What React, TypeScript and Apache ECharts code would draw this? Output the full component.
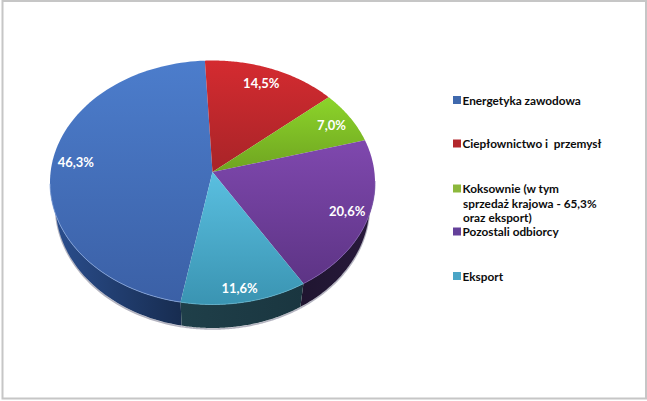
import React, { useEffect, useRef } from "react";
import * as echarts from "echarts";

const categories = [
  "Energetyka zawodowa",
  "Ciepłownictwo i  przemysł",
  "Koksownie (w tym sprzedaż krajowa - 65,3% oraz eksport)",
  "Pozostali odbiorcy",
  "Eksport",
];
const values = [46.3, 14.5, 7.0, 20.6, 11.6];
const sliceLabels = ["46,3%", "14,5%", "7,0%", "20,6%", "11,6%"];
const legendLines = ["Energetyka zawodowa", "Ciepłownictwo i  przemysł", "Koksownie (w tym", "Pozostali odbiorcy", "Eksport"];
const legendExtra = ["sprzedaż krajowa - 65,3%", "oraz eksport)"];

const markerColors = ["#3f69ad", "#b3272c", "#8cb83c", "#64409a", "#4aa5c6"];
const topStops = [
  ["#4c7dcc", "#3b60a6"],
  ["#d42b30", "#a82428"],
  ["#8cd42a", "#6fa421"],
  ["#7f48ae", "#5d3485"],
  ["#5abfe0", "#3a94b2"],
];
const wallStops = [
  ["#2b4f8f", "#172c50"],
  ["#1c2b36", "#1c2b36"],
  ["#1c2b36", "#1c2b36"],
  ["#1f3f49", "#1a3640"],
  ["#1f1530", "#291a3c"],
];
const wallFor = [0, -1, -1, 4, 3];
const rimColors = ["#86a6dc", "", "", "#7f5cae", "#62b5cf"];
const labelRadii = [0.85, 0.85, 0.855, 0.87, 0.91];
const labelShiftY = [-3, 0, 0, -1, -1];
const labelShiftX = [0, -2, 1, 0, -2];

const font = "Lato";
const TOP = { cx: 212.5, cy: 182.5, rx: 162.5, ry: 122 };
const BOTTOM = { cx: 212.5, cy: 205, rx: 157, ry: 123 };
const TILT = 0.086;
const START_DEG = 259.6;

function project(theta: number, r: number) {
  const x = r * Math.cos(theta);
  const y = r * Math.sin(theta);
  const d = 1 + TILT * y;
  return [(x * Math.sqrt(1 - TILT * TILT)) / d, (y + TILT) / d];
}
const toPx = (p: number[], e: typeof TOP) => [e.cx + p[0] * e.rx, e.cy - p[1] * e.ry];

function gradient(stops: string[], horizontal = false) {
  return new echarts.graphic.LinearGradient(0, 0, horizontal ? 1 : 0, horizontal ? 0 : 1, [
    { offset: 0, color: stops[0] },
    { offset: 1, color: stops[1] },
  ]);
}

function renderSlice(idx: number) {
  return (_params: any, api: any) => {
    const a0 = ((START_DEG - (api.value(0) / 100) * 360) * Math.PI) / 180;
    const a1 = ((START_DEG - (api.value(1) / 100) * 360) * Math.PI) / 180;
    const steps = 90;
    const rim: number[][] = [];
    for (let i = 0; i <= steps; i++) rim.push(project(a0 + ((a1 - a0) * i) / steps, 1));
    const children: any[] = [];
    const w = wallFor[idx];
    const low = rim.filter((p) => p[1] < 0.02);
    if (w >= 0) {
      const bottomPts = low.map((p) => toPx(p, BOTTOM));
      const shadowPts = bottomPts.map((p) => [p[0], p[1] + 1]);
      children.push({
        type: "polyline",
        shape: { points: shadowPts },
        style: { fill: "none", stroke: "#b4b4c0", lineWidth: 1.6 },
      });
      const pts = [...low.map((p) => toPx(p, TOP)), ...bottomPts.slice().reverse()];
      children.push({ type: "polygon", shape: { points: pts }, style: { fill: gradient(wallStops[w], true) } });
    }
    const apex = toPx(project(0, 0), TOP);
    children.push({
      type: "polygon",
      shape: { points: [apex, ...rim.map((p) => toPx(p, TOP))] },
      style: { fill: gradient(topStops[idx]) },
    });
    if (w >= 0) {
      children.push({
        type: "polyline",
        shape: { points: low.map((p) => toPx(p, TOP)) },
        style: { fill: "none", stroke: rimColors[idx], lineWidth: 0.8 },
      });
    }
    const pos = toPx(project((a0 + a1) / 2, labelRadii[idx]), TOP);
    children.push({
      type: "text",
      x: pos[0] + labelShiftX[idx],
      y: pos[1] + labelShiftY[idx],
      style: {
        text: sliceLabels[idx],
        fill: "#ffffff",
        font: `bold 13px ${font}`,
        align: "center",
        verticalAlign: "middle",
      },
    });
    return { type: "group", children };
  };
}

const legendCenters = [101, 144.5, 189.5, 232.5, 277];

export default function App() {
  const ref = useRef<HTMLDivElement>(null);
  useEffect(() => {
    const chart = echarts.init(ref.current!, undefined, { renderer: "svg" });
    let acc = 0;
    const series = categories.map((name, i) => {
      const start = acc;
      acc += values[i];
      return {
        type: "custom",
        name,
        coordinateSystem: "none",
        silent: true,
        itemStyle: { color: markerColors[i] },
        data: [[start, acc]],
        renderItem: renderSlice(i),
      };
    });
    chart.setOption({
      animation: false,
      backgroundColor: "#ffffff",
      legend: categories.map((name, i) => ({
        data: [name],
        left: 453,
        top: legendCenters[i] - 7,
        orient: "vertical",
        padding: 0,
        itemWidth: 8,
        itemHeight: 8,
        icon: "rect",
        selectedMode: false,
        formatter: () => legendLines[i],
        textStyle: { fontFamily: font, fontWeight: "bold", fontSize: 11.8, color: "#0c0c0c", padding: [0, 0, 0, -3.5] },
      })),
      graphic: [
        {
          type: "rect",
          z: -10,
          shape: { x: 2.5, y: 1, width: 643.5, height: 397.5 },
          style: { fill: "#ffffff", stroke: "#c6c6c6", lineWidth: 2 },
        },
        ...legendExtra.map((text, i) => ({
          type: "text",
          x: 463,
          y: 203.5 + i * 14,
          style: { text, fill: "#0c0c0c", font: `bold 11.8px ${font}`, verticalAlign: "middle" },
        })),
      ],
      series,
    });
    return () => chart.dispose();
  }, []);
  return <div ref={ref} style={{ position: "absolute", left: 0, top: 0, width: 647, height: 401 }} />;
}
